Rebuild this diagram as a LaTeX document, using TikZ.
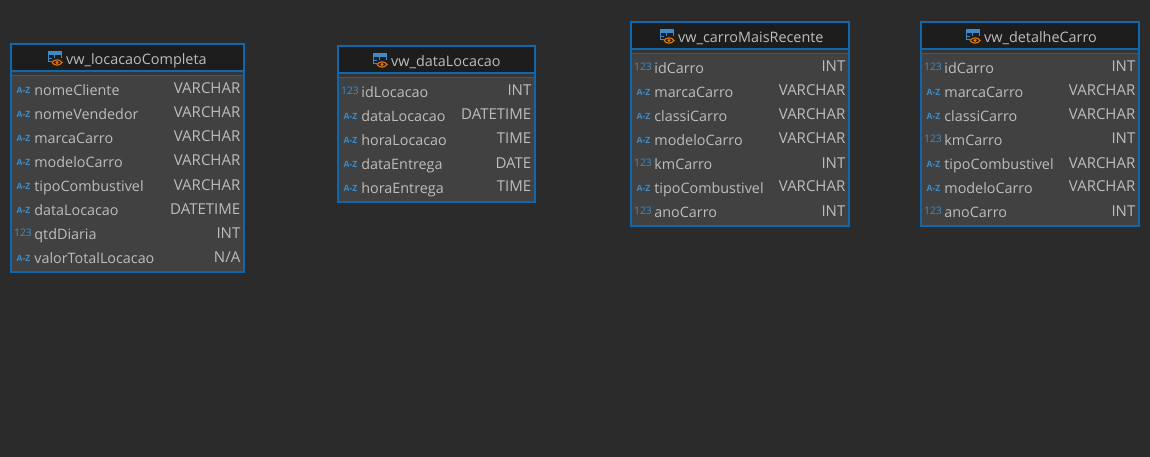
\documentclass[tikz,border=0pt]{standalone}
\usepackage{fontspec}
\setmainfont{Open Sans}
\definecolor{bgc}{HTML}{2B2B2B}
\definecolor{bodyc}{HTML}{414141}
\definecolor{headc}{HTML}{1D1D1D}
\definecolor{edgec}{HTML}{0F67AD}
\definecolor{txtc}{HTML}{BDBDBD}
\definecolor{iconc}{HTML}{3D8CC9}
\definecolor{eyec}{HTML}{E07A10}
\tikzset{
  px/.style={x=1pt,y=-1pt},
  titletext/.style={text=txtc,font=\fontsize{14.4}{16}\selectfont,inner sep=0pt,anchor=base west},
  nametext/.style={text=txtc,font=\fontsize{14.35}{16}\selectfont,inner sep=0pt,anchor=base west},
  typetext/.style={text=txtc,font=\fontsize{15}{17}\selectfont,inner sep=0pt,anchor=base east},
  azicon/.style={text=iconc,font=\fontsize{8.6}{9}\bfseries\selectfont,inner sep=0pt,anchor=base},
  numicon/.style={text=iconc,font=\fontsize{10.4}{11}\selectfont,inner sep=0pt,anchor=base},
  frameline/.style={draw=edgec,line width=1.6pt},
}
% #1 name, #2 left, #3 top, #4 right, #5 bottom, #6 title x, #7 title, #8 rows
\newcommand{\vwbox}[8]{
  \fill[bodyc] (#2,#3) rectangle (#4,#5);
  \fill[headc] (#2,#3) rectangle (#4,#3+27);
  \fill[bgc!60!bodyc] (#2,#3+27.6) rectangle (#4,#3+30.9);
  \draw[edgec,line width=1.2pt] (#2,#3+27) -- (#4,#3+27);
  \draw[edgec,line width=1.2pt] (#2,#3+31.5) -- (#4,#3+31.5);
  \draw[frameline] (#2,#3) rectangle (#4,#5);
  % view icon: table with eye
  \begin{scope}[shift={(#6-18.5,#3+7)}]
    \fill[iconc] (0,0) rectangle (14,4);
    \draw[iconc,line width=1pt] (0.5,0.5) rectangle (13.5,11);
    \draw[iconc,line width=1pt] (0.5,7.5) -- (13.5,7.5) (7,0.5) -- (7,11);
    \fill[headc] (4,7) rectangle (16,16);
    \draw[eyec,line width=1.1pt] (4.5,11.5) .. controls (7,8) and (12,8) .. (14.5,11.5) .. controls (12,15) and (7,15) .. (4.5,11.5);
    \fill[eyec] (9.5,11.5) circle (1.7);
  \end{scope}
  \node[titletext] (#1title) at (#6,#3+20.5) {#7};
  \foreach \yy/\kind/\nm/\ty [count=\ii] in {#8} {
    \ifnum\kind=1
      \node[azicon] (#1i\ii) at (#2+12.5,#3+\yy+3.4) {A-Z};
    \else
      \node[numicon] (#1i\ii) at (#2+12,#3+\yy+2.8) {123};
    \fi
    \node[nametext] (#1n\ii) at (#2+23.2,#3+\yy+5.8) {\nm};
    \node[typetext] (#1t\ii) at (#4-3.5,#3+\yy+4) {\ty};
  }
}
\begin{document}
\begin{tikzpicture}[px]
\useasboundingbox (0,0) rectangle (1150,457);
\fill[bgc] (0,0) rectangle (1150,457);
\vwbox{a}{11}{44}{244}{272}{66}{vw\_locacaoCompleta}{
 46/1/nomeCliente/VARCHAR,70/1/nomeVendedor/VARCHAR,94/1/marcaCarro/VARCHAR,118/1/modeloCarro/VARCHAR,
 142/1/tipoCombustivel/VARCHAR,166/1/dataLocacao/DATETIME,190/2/qtdDiaria/INT,214/1/valorTotalLocacao/{N/A}}
\vwbox{b}{338}{46}{535}{202}{391}{vw\_dataLocacao}{
 46/2/idLocacao/INT,70/1/dataLocacao/DATETIME,94/1/horaLocacao/TIME,118/1/dataEntrega/DATE,142/1/horaEntrega/TIME}
\vwbox{c}{631}{22}{849}{226}{678}{vw\_carroMaisRecente}{
 46/2/idCarro/INT,70/1/marcaCarro/VARCHAR,94/1/classiCarro/VARCHAR,118/1/modeloCarro/VARCHAR,
 142/2/kmCarro/INT,166/1/tipoCombustivel/VARCHAR,190/2/anoCarro/INT}
\vwbox{d}{921}{22}{1139}{226}{984}{vw\_detalheCarro}{
 46/2/idCarro/INT,70/1/marcaCarro/VARCHAR,94/1/classiCarro/VARCHAR,118/2/kmCarro/INT,
 142/1/tipoCombustivel/VARCHAR,166/1/modeloCarro/VARCHAR,190/2/anoCarro/INT}
\end{tikzpicture}
\end{document}
